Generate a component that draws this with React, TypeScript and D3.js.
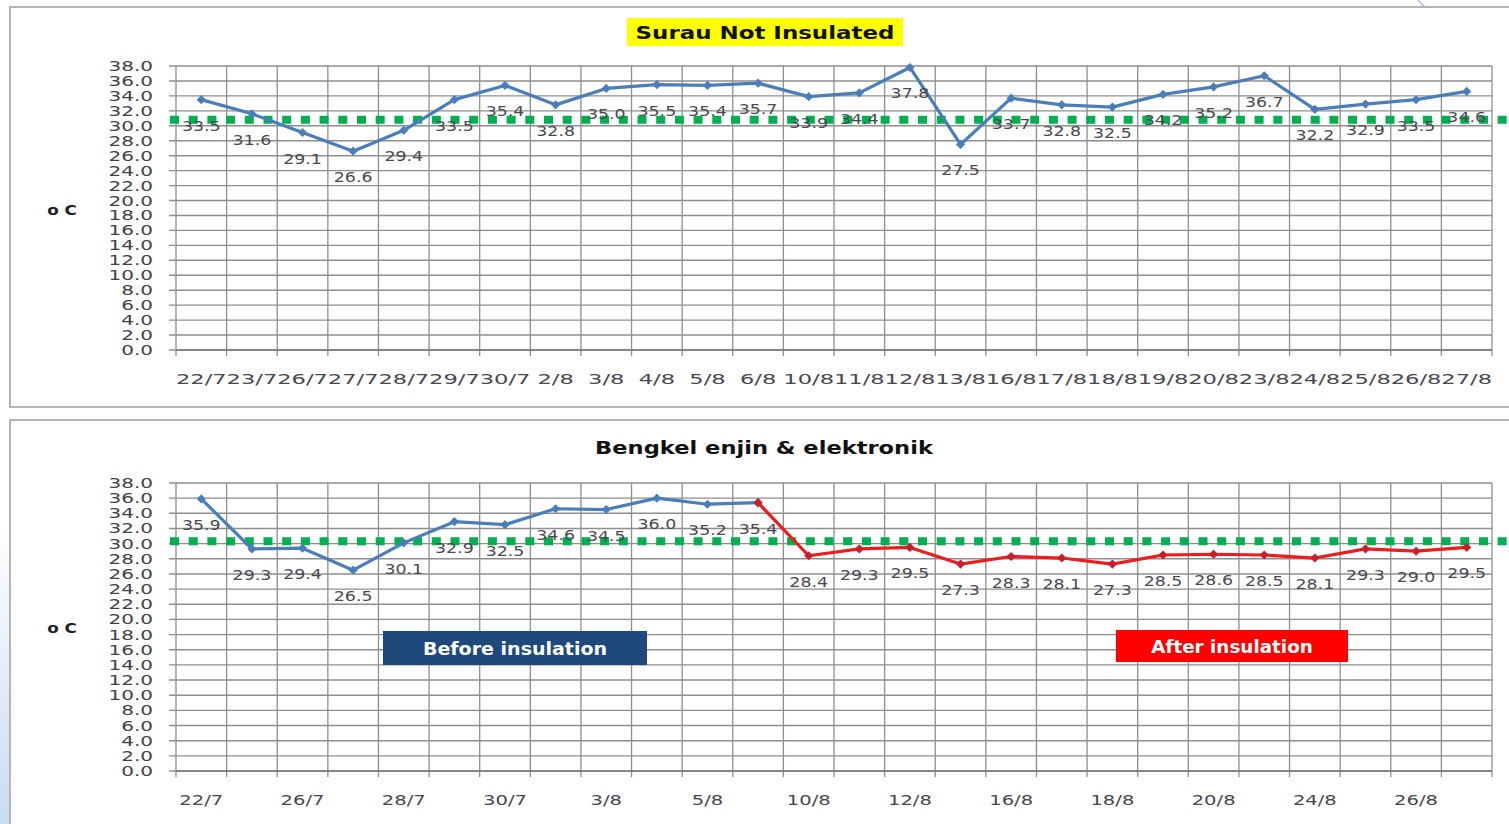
import React from 'react';
import * as d3 from 'd3';

// dates on the x axis (same days for both rooms)
const dates = ['22/7', '23/7', '26/7', '27/7', '28/7', '29/7', '30/7', '2/8', '3/8', '4/8', '5/8', '6/8', '10/8',
  '11/8', '12/8', '13/8', '16/8', '17/8', '18/8', '19/8', '20/8', '23/8', '24/8', '25/8', '26/8', '27/8'];

const surauTemps = [33.5, 31.6, 29.1, 26.6, 29.4, 33.5, 35.4, 32.8, 35.0, 35.5, 35.4, 35.7, 33.9,
  34.4, 37.8, 27.5, 33.7, 32.8, 32.5, 34.2, 35.2, 36.7, 32.2, 32.9, 33.5, 34.6];

// bengkel: first 12 days before insulation, remaining 14 after
const bengkelBefore = [35.9, 29.3, 29.4, 26.5, 30.1, 32.9, 32.5, 34.6, 34.5, 36.0, 35.2, 35.4];
const bengkelAfter = [28.4, 29.3, 29.5, 27.3, 28.3, 28.1, 27.3, 28.5, 28.6, 28.5, 28.1, 29.3, 29.0, 29.5];

const bengkelTickDates = ['22/7', '26/7', '28/7', '30/7', '3/8', '5/8', '10/8', '12/8', '16/8', '18/8', '20/8', '24/8', '26/8'];

const yTickValues = [0, 2, 4, 6, 8, 10, 12, 14, 16, 18, 20, 22, 24, 26, 28, 30, 32, 34, 36, 38];

const surauLimit = 30.8;
const bengkelLimit = 30.3;

const FONT = 'DejaVu Sans, Verdana, sans-serif';
const BLUE = '#4A7EBB';
const RED = '#EE1C1C';
const GREEN = '#00B050';

interface Pt { date: string; v: number }
interface Series { pts: Pt[]; color: string; marker: string }

const SText: React.FC<any> = ({ x, y, sx = 1, children, ...rest }) => (
  <text transform={`translate(${x},${y}) scale(${sx},1)`} fontFamily={FONT} {...rest}>{children}</text>
);

const marker = d3.symbol(d3.symbolSquare, 42)() as string;

const Plot: React.FC<{ top: number; bottom: number; series: Series[]; tickDates: string[]; limit: number; tickSx: number }> = ({ top, bottom, series, tickDates, limit, tickSx }) => {
  const x = d3.scaleBand<string>().domain(dates).range([176, 1492]);
  const y = d3.scaleLinear().domain([0, 38]).range([bottom, top]);
  const bw = x.bandwidth();
  const cx = (d: string) => (x(d) as number) + bw / 2;
  const line = d3.line<Pt>().x(d => cx(d.date)).y(d => y(d.v));
  const edges = [...dates.map(d => x(d) as number), x.range()[1]];

  return (
    <g>
      {yTickValues.map(t => (
        <g key={'h' + t}>
          <line x1={x.range()[0] - 7} x2={x.range()[1]} y1={y(t)} y2={y(t)} stroke="#8E8E8E" strokeWidth={1.4} />
          <SText x={153} y={y(t) + 5} sx={1.38} fontSize={14.5} fill="#43404a" textAnchor="end">{t.toFixed(1)}</SText>
        </g>
      ))}
      {edges.map((e, i) => (
        <line key={'v' + i} x1={e} x2={e} y1={y(38)} y2={y(0) + 6} stroke="#8E8E8E" strokeWidth={1.3} />
      ))}
      <line x1={x.range()[0]} x2={x.range()[1]} y1={y(0)} y2={y(0)} stroke="#777" strokeWidth={1.5} />
      {tickDates.map(d => (
        <SText key={'x' + d} x={cx(d)} y={bottom + 34} sx={tickSx} fontSize={14.5} fill="#4a4650" textAnchor="middle">{d}</SText>
      ))}
      <line x1={170} x2={1509} y1={y(limit)} y2={y(limit)} stroke={GREEN} strokeWidth={8} strokeDasharray="9 9.7" />
      {series.map((s, si) => (
        <g key={'s' + si}>
          <path d={line(s.pts) as string} fill="none" stroke={s.color} strokeWidth={3.2} strokeLinejoin="round" />
          {s.pts.map((p, i) => (
            <path key={i} d={marker} transform={`translate(${cx(p.date)},${y(p.v)}) rotate(45)`} fill={s.marker} />
          ))}
        </g>
      ))}
      {series.map((s, si) => s.pts.filter((_, i) => si === 0 || i > 0).map((p, i) => (
        <SText key={'l' + si + i} x={cx(p.date)} y={y(p.v) + 31} sx={1.2} fontSize={14.5} fill="#4b4852" textAnchor="middle">{p.v.toFixed(1)}</SText>
      )))}
    </g>
  );
};

export default function App() {
  const surau: Series[] = [{ pts: dates.map((d, i) => ({ date: d, v: surauTemps[i] })), color: BLUE, marker: BLUE }];
  const nb = bengkelBefore.length;
  const bengkel: Series[] = [
    { pts: bengkelBefore.map((v, i) => ({ date: dates[i], v })), color: BLUE, marker: BLUE },
    { pts: [{ date: dates[nb - 1], v: bengkelBefore[nb - 1] }, ...bengkelAfter.map((v, i) => ({ date: dates[nb + i], v }))], color: RED, marker: '#C8202A' },
  ];

  return (
    <svg width={1509} height={824} style={{ position: 'absolute', left: 0, top: 0, background: '#fff' }}>
      <defs>
        <linearGradient id="edge" x1="0" y1="0" x2="0" y2="1">
          <stop offset="0" stopColor="#ffffff" />
          <stop offset="1" stopColor="#c9dcf0" />
        </linearGradient>
      </defs>
      <rect x={0} y={520} width={9} height={304} fill="url(#edge)" />
      <path d="M1418,0 Q1425,9 1438,13" fill="none" stroke="#8fb0dc" strokeWidth={1.2} />

      {/* top panel */}
      <rect x={10} y={7} width={1510} height={400} fill="#fff" stroke="#b4b4b4" strokeWidth={2} />
      <rect x={627} y={18} width={276} height={28} fill="#FFFF00" />
      <SText x={765} y={39} sx={1.24} fontSize={18.5} fontWeight="bold" fill="#111" textAnchor="middle">Surau Not Insulated</SText>
      <SText x={62} y={215} sx={1.2} fontSize={14} fontWeight="bold" fill="#222" textAnchor="middle">o C</SText>
      <Plot top={66} bottom={350} series={surau} tickDates={dates} limit={surauLimit} tickSx={1.56} />

      {/* bottom panel */}
      <rect x={10} y={420} width={1510} height={420} fill="#fff" stroke="#b4b4b4" strokeWidth={2} />
      <SText x={764} y={454} sx={1.22} fontSize={18.5} fontWeight="bold" fill="#111" textAnchor="middle">Bengkel enjin &amp; elektronik</SText>
      <SText x={62} y={633} sx={1.2} fontSize={14} fontWeight="bold" fill="#222" textAnchor="middle">o C</SText>
      <Plot top={483} bottom={771} series={bengkel} tickDates={bengkelTickDates} limit={bengkelLimit} tickSx={1.35} />

      <rect x={383} y={631} width={264} height={34} fill="#1F497D" />
      <SText x={515} y={655} sx={1.12} fontSize={17} fontWeight="bold" fill="#fff" textAnchor="middle">Before insulation</SText>
      <rect x={1116} y={630} width={232} height={32} fill="#FF0000" />
      <SText x={1232} y={653} sx={1.08} fontSize={17} fontWeight="bold" fill="#fff" textAnchor="middle">After insulation</SText>
    </svg>
  );
}
